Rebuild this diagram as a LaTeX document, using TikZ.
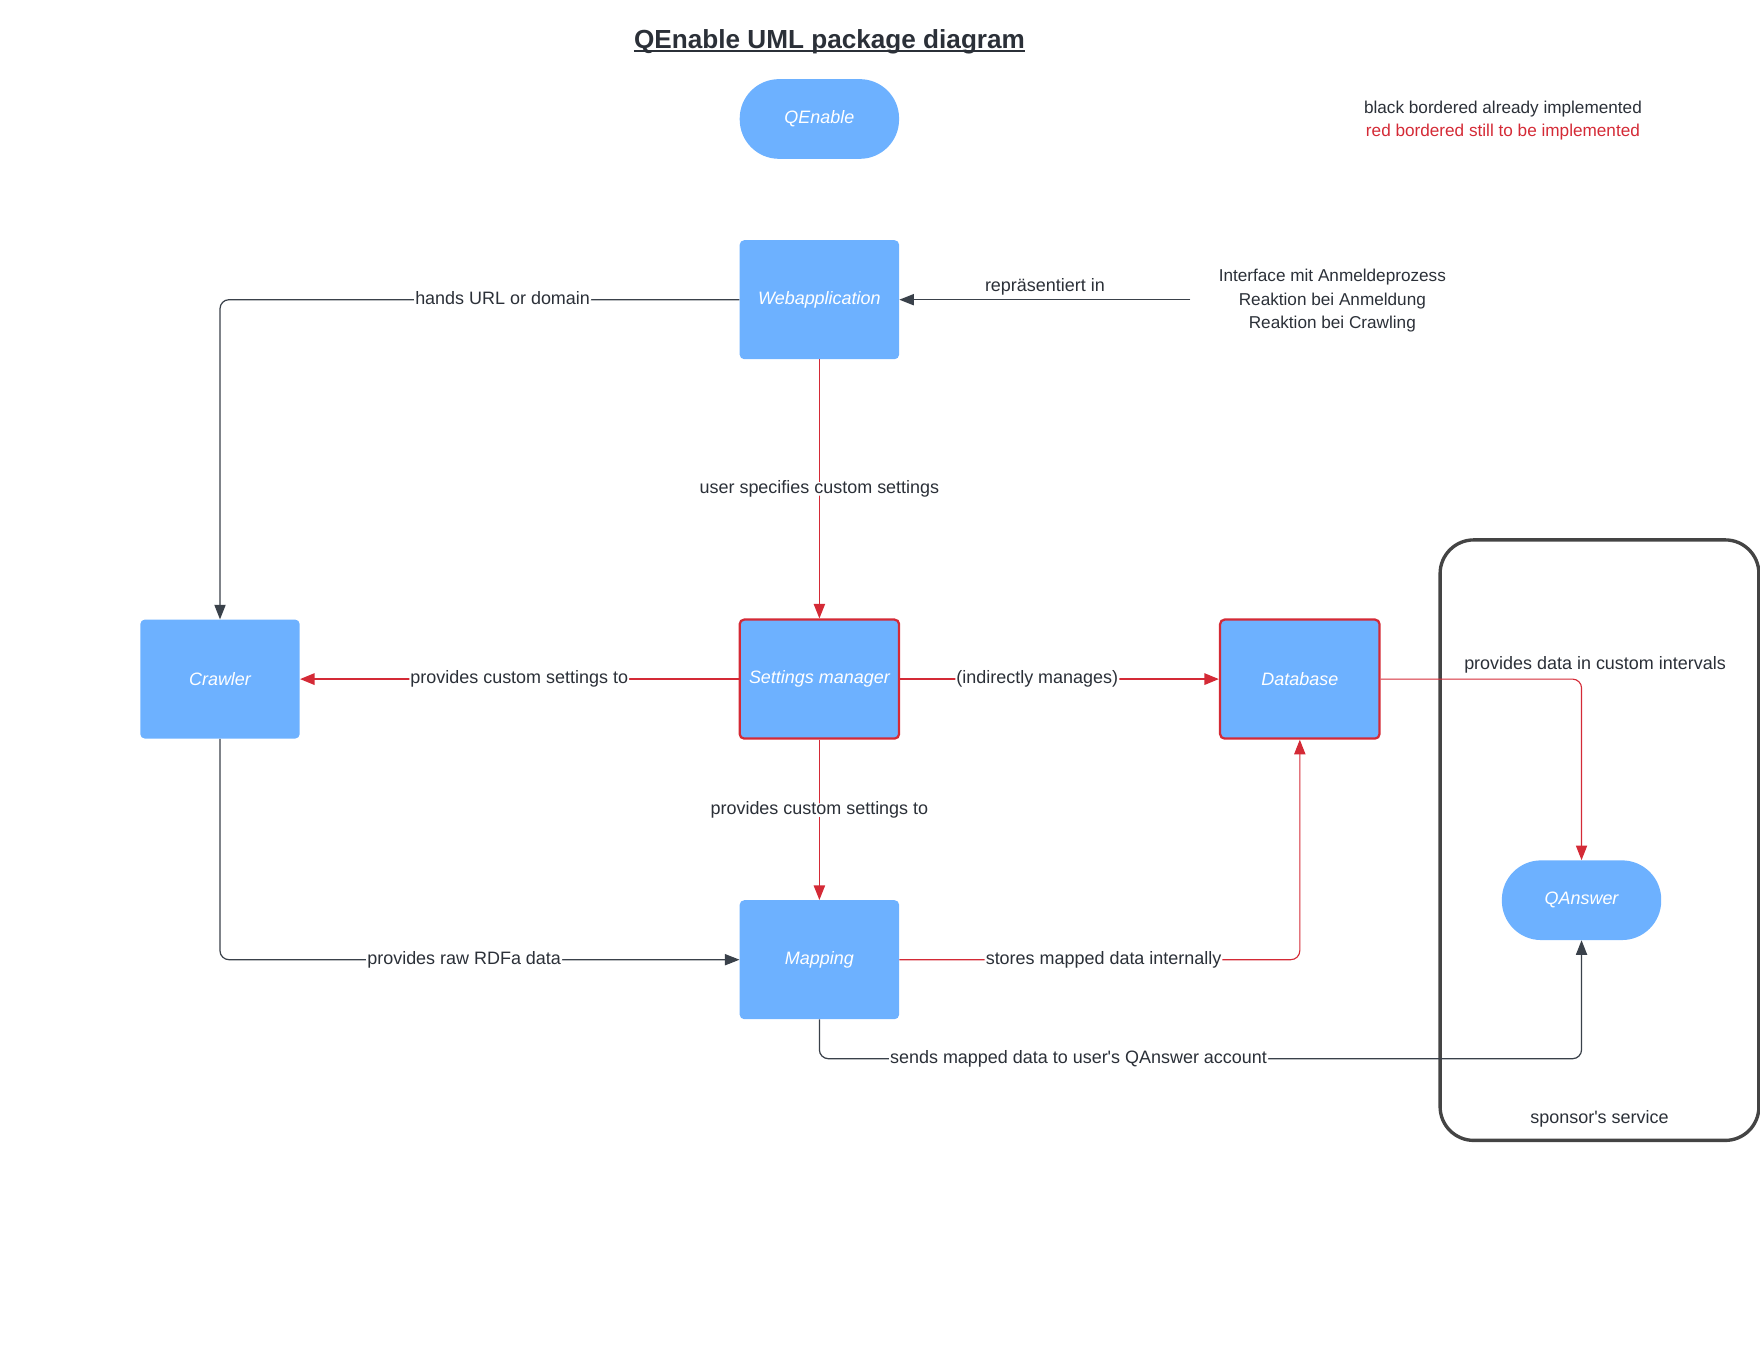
\documentclass[tikz,border=0pt]{standalone}
\usepackage{fontspec}
\setmainfont{Liberation Sans}[Ligatures=TeXOff]
\usepackage{tikz}
\usetikzlibrary{arrows.meta}
\definecolor{qblue}{HTML}{6DB1FF}
\definecolor{qred}{HTML}{D42A36}
\definecolor{qdark}{HTML}{3A414A}
\definecolor{qtext}{HTML}{2B3038}
\definecolor{qbox}{HTML}{444444}
\tikzstyle{package} = [rectangle, rounded corners=4pt, minimum width=142pt, minimum height=106pt, text centered, fill=qblue, text=white, font=\fontsize{16}{19}\selectfont\itshape]
\tikzstyle{todo} = [package, draw=qred, line width=2pt]
\tikzstyle{terminal} = [package, rounded corners=35pt, minimum height=71pt]
\tikzstyle{container} = [rectangle, rounded corners=30pt, minimum width=284pt, minimum height=535pt, draw=qbox, line width=3pt]
\tikzstyle{plain} = [text=qtext, align=center, font=\fontsize{15.3}{21}\selectfont]
\tikzstyle{conlabel} = [fill=white, text=qtext, inner sep=1pt, text height=9pt, text depth=1pt, font=\fontsize{16}{19}\selectfont]
\tikzstyle{arrow} = [draw=qdark, line width=1.1pt, rounded corners=8pt, -{Triangle[length=13pt,width=10pt]}]
\tikzstyle{redarrow} = [arrow, draw=qred, line width=1pt]

\begin{document}
\begin{tikzpicture}[x=1pt, y=-1pt]
  \useasboundingbox (0,0) rectangle (1568,1212);

  % title and legend
  \node (title) [anchor=base, inner sep=0pt, text=qtext, font=\fontsize{23.3}{28}\selectfont\bfseries] at (739,43) {QEnable UML package diagram};
  \draw [qtext, line width=2pt] ([yshift=-2.5pt]title.base west) -- ([yshift=-2.5pt]title.base east);
  \node (legend) [plain] at (1339,107.5) {black bordered already implemented\\\textcolor{qred}{red bordered still to be implemented}};

  % packages
  \node (qenable) [terminal] at (730,106) {QEnable};
  \node (webapp) [package] at (730,267) {Webapplication};
  \node (note) [plain, inner xsep=25pt] at (1187,268) {Interface mit Anmeldeprozess\\Reaktion bei Anmeldung\\Reaktion bei Crawling};
  \node (settings) [todo] at (730,605) {Settings manager};
  \node (crawler) [package] at (196,605) {Crawler};
  \node (database) [todo] at (1158,605) {Database};
  \node (mapping) [package] at (730,855) {Mapping};

  % sponsor's service
  \node (sponsor) [container] at (1425,748.5) {};
  \node (sponsorlabel) [plain, font=\fontsize{16}{19}\selectfont] at (1425,997) {sponsor's service};
  \node (qanswer) [terminal] at (1409,802) {QAnswer};
  \node (intervals) [plain, font=\fontsize{16}{19}\selectfont] at (1421,592) {provides data in custom intervals};

  % connectors
  \draw [arrow] (note.west |- webapp.east) -- node[conlabel, fill=none, above=5pt] {repräsentiert in} (webapp.east);
  \draw [arrow] (webapp.west) -| node[conlabel, pos=0.228] {hands URL or domain} (crawler.north);
  \draw [redarrow, line width=1.5pt] (webapp.south) -- node[conlabel] {user specifies custom settings} (settings.north);
  \draw [redarrow, line width=2pt] (settings.west) -- node[conlabel] {provides custom settings to} (crawler.east);
  \draw [redarrow, line width=2pt] (settings.east) -- node[conlabel, pos=0.43] {(indirectly manages)} (database.west);
  \draw [redarrow, line width=1.5pt] (settings.south) -- node[conlabel, pos=0.44] {provides custom settings to} (mapping.north);
  \draw [arrow] (crawler.south) |- node[conlabel, pos=0.735] {provides raw RDFa data} (mapping.west);
  \draw [redarrow] (mapping.east) -| node[conlabel, pos=0.255] {stores mapped data internally} (database.south);
  \draw [arrow] (mapping.south) -- ++(0,35) -| node[conlabel, pos=0.17] {sends mapped data to user's QAnswer account} (qanswer.south);
  \draw [redarrow] (database.east) -| (qanswer.north);

\end{tikzpicture}
\end{document}
